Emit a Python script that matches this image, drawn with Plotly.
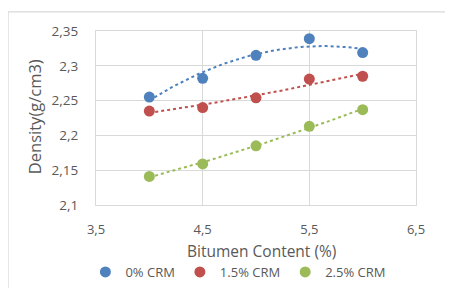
import numpy as np
import plotly.graph_objects as go

bitumen = [4.0, 4.5, 5.0, 5.5, 6.0]
series_names = ["0% CRM", "1.5% CRM", "2.5% CRM"]
crm0 = [2.255, 2.282, 2.315, 2.339, 2.319]
crm15 = [2.235, 2.240, 2.254, 2.281, 2.285]
crm25 = [2.141, 2.159, 2.185, 2.213, 2.237]
colors = ["#4f81bd", "#c0504d", "#9bbb59"]

FONT = "Open Sans"
GRAY = "#595959"

fig = go.Figure()
xs = np.linspace(min(bitumen), max(bitumen), 60)
for name, vals, c in zip(series_names, [crm0, crm15, crm25], colors):
    p = np.polyfit(bitumen, vals, 2)
    fig.add_trace(go.Scatter(x=xs, y=np.polyval(p, xs), mode="lines",
                             line=dict(color=c, width=2, dash="dot"),
                             showlegend=False, hoverinfo="skip"))
for name, vals, c in zip(series_names, [crm0, crm15, crm25], colors):
    fig.add_trace(go.Scatter(x=bitumen, y=vals, mode="markers", name=name,
                             marker=dict(color=c, size=11)))

# page body has an 8px default margin -> compensate in the figure margins
fig.update_layout(
    width=453, height=288,
    margin=dict(l=88, r=45, t=23, b=91, autoexpand=False),
    paper_bgcolor="white", plot_bgcolor="white",
    font=dict(family=FONT, color=GRAY, size=12),
    xaxis=dict(range=[3.5, 6.5], dtick=1, tick0=3.5, tickformat=".1f",
               showgrid=True, gridcolor="#d9d9d9", gridwidth=1.3,
               showline=True, linecolor="#d9d9d9", mirror=True, linewidth=1.3,
               zeroline=False, ticks="", ticklabelstandoff=12, automargin=False,
               tickfont=dict(size=13, color=GRAY)),
    yaxis=dict(range=[2.1, 2.35], dtick=0.05,
               showgrid=True, gridcolor="#d9d9d9", gridwidth=1.3,
               showline=True, linecolor="#d9d9d9", mirror=True, linewidth=1.3,
               zeroline=False, ticks="", ticklabelstandoff=14, automargin=False,
               tickfont=dict(size=13.5, color=GRAY)),
    separators=", ",
    legend=dict(orientation="h", x=0.445, xanchor="center", y=-0.385, yanchor="middle",
                font=dict(size=13, color=GRAY), itemwidth=30,
                tracegroupgap=0),
    showlegend=True,
    annotations=[
        dict(text="Bitumen Content (%)", xref="paper", yref="paper", x=0.517, y=-0.262,
             xanchor="center", yanchor="middle", showarrow=False,
             font=dict(size=15.5, color=GRAY)),
        dict(text="Density(g/cm3)", xref="paper", yref="paper", x=-0.19, y=0.506,
             xanchor="center", yanchor="middle", showarrow=False, textangle=-90,
             font=dict(size=16.5, color=GRAY)),
    ],
    shapes=[dict(type="rect", xref="paper", yref="paper", x0=-0.275, x1=1.3,
                 y0=-0.7, y1=1.11, line=dict(color="#d9d9d9", width=1.3))],
)
fig.write_html("out.html")
